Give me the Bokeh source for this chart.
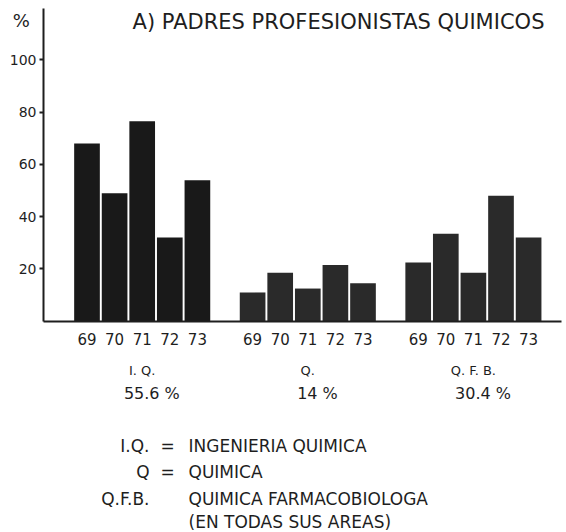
from bokeh.plotting import figure
from bokeh.models import Label, FixedTicker, Range1d
from bokeh.embed import file_html
from bokeh.resources import INLINE

# ---- data ----
years = ["69", "70", "71", "72", "73"]
groups = ["I. Q.", "Q.", "Q. F. B."]
shares = ["55.6 %", "14 %", "30.4 %"]
iq_values = [68, 49, 76.5, 32, 54]
q_values = [11, 18.5, 12.5, 21.5, 14.5]
qfb_values = [22.5, 33.5, 18.5, 48, 32]
title_text = "A) PADRES PROFESIONISTAS QUIMICOS"
legend_abbr = ["I.Q.", "Q", "Q.F.B.", ""]
legend_eq = ["=", "=", "", ""]
legend_desc = ["INGENIERIA QUIMICA", "QUIMICA", "QUIMICA FARMACOBIOLOGA", "(EN TODAS SUS AREAS)"]
y_ticks = [20, 40, 60, 80, 100]

FONT = "DejaVu Sans"
INK = "#1e1e1e"
GROUP_STEP = 6  # 5 bars + 1 bar-width gap

series = [iq_values, q_values, qfb_values]
bar_colors = ["#191919", "#2a2a2a", "#2a2a2a"]

# the frame spans the whole canvas; axes are pinned inside it
AXIS_X = -1.576      # data x where the vertical axis stands
AXIS_TOP = 119.7     # data y where the vertical axis ends

p = figure(width=566, height=532, output_backend="svg", toolbar_location=None,
           x_range=Range1d(-3.134, 17.373), y_range=Range1d(-80.88, 122.76),
           min_border_left=0, min_border_right=0, min_border_top=0, min_border_bottom=0,
           background_fill_color="white", border_fill_color="white")
p.outline_line_color = None
p.grid.visible = False

xs, tops, cols = [], [], []
for g, vals in enumerate(series):
    for i, v in enumerate(vals):
        xs.append(g * GROUP_STEP + i)
        tops.append(v)
        cols.append(bar_colors[g])
p.vbar(x=xs, top=tops, bottom=0, width=0.93, fill_color=cols, line_color=None)

# y axis
ya = p.yaxis[0]
ya.fixed_location = AXIS_X
ya.bounds = (0, AXIS_TOP)
ya.ticker = FixedTicker(ticks=y_ticks)
ya.minor_tick_line_color = None
ya.major_tick_in = 0
ya.major_tick_out = 4
ya.major_tick_line_width = 2
ya.major_tick_line_color = INK
ya.axis_line_width = 2
ya.axis_line_color = INK
ya.major_label_standoff = 3
ya.major_label_text_font = FONT
ya.major_label_text_font_size = "14px"
ya.major_label_text_color = INK

# x axis (baseline) with year labels under each bar
xa = p.xaxis[0]
xa.fixed_location = 0
xa.bounds = (AXIS_X, 17.2)
xa.ticker = FixedTicker(ticks=xs)
xa.major_label_overrides = {x: years[k % 5] for k, x in enumerate(xs)}
xa.minor_tick_line_color = None
xa.major_tick_line_color = None
xa.axis_line_width = 2
xa.axis_line_color = INK
xa.major_label_standoff = 6
xa.major_label_text_font = FONT
xa.major_label_text_font_size = "15px"
xa.major_label_text_color = INK

def lab(x, y, text, size, align="center"):
    p.add_layout(Label(x=x, y=y, text=text, text_font=FONT, text_font_size=size,
                       text_color=INK, text_align=align, text_baseline="middle"))

lab(9.113, 114.45, title_text, "21px")
lab(-2.384, 115.1, "%", "18px")

for g in range(3):
    center = g * GROUP_STEP + 2
    lab(center, -18.87, groups[g], "13px")
    lab(center + 0.35, -27.67, shares[g], "16px")

legend_y = [-47.58, -57.8, -67.87, -76.94]
for k in range(4):
    if legend_abbr[k]:
        lab(2.265, legend_y[k], legend_abbr[k], "17px", align="right")
    if legend_eq[k]:
        lab(2.917, legend_y[k], legend_eq[k], "17px")
    lab(3.678, legend_y[k], legend_desc[k], "17px", align="left")

open("out.html", "w").write(file_html(p, INLINE))
